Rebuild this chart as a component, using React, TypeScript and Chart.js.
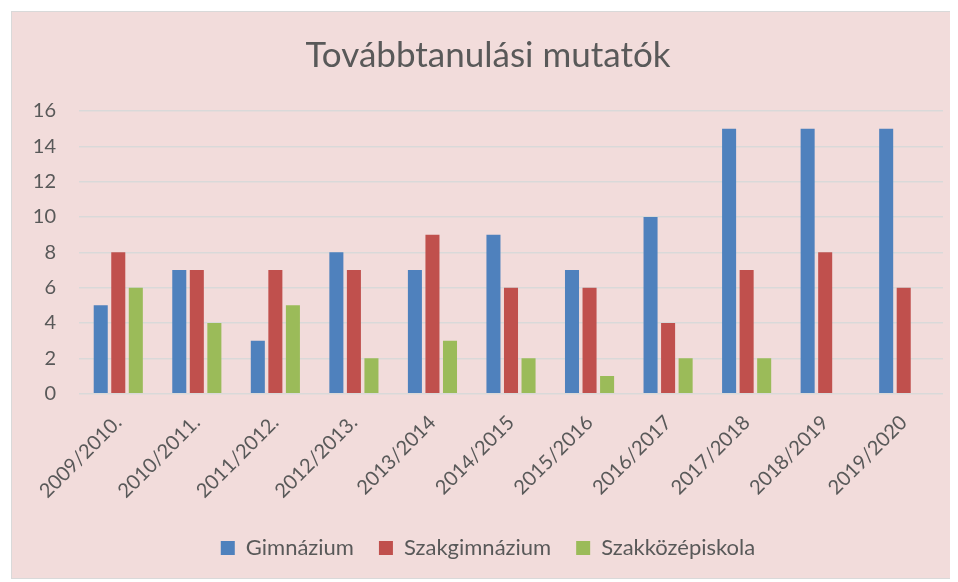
import React, { useEffect, useRef } from "react";
import { Chart, registerables } from "chart.js";

Chart.register(...registerables);

const categories = [
  "2009/2010.", "2010/2011.", "2011/2012.", "2012/2013.", "2013/2014", "2014/2015",
  "2015/2016", "2016/2017", "2017/2018", "2018/2019", "2019/2020",
];
const gimnazium = [5, 7, 3, 8, 7, 9, 7, 10, 15, 15, 15];
const szakgimnazium = [8, 7, 7, 7, 9, 6, 6, 4, 7, 8, 6];
const szakkozepiskola: (number | null)[] = [6, 4, 5, 2, 3, 2, 1, 2, 2, null, null];

const FONT = "Lato, 'Open Sans', sans-serif";
const TEXT = "#595959";

export default function App() {
  const ref = useRef<HTMLCanvasElement>(null);
  useEffect(() => {
    if (!ref.current) return;
    const chart = new Chart(ref.current, {
      type: "bar",
      data: {
        labels: categories,
        datasets: [
          { label: "Gimnázium", data: gimnazium, backgroundColor: "#4F81BD" },
          { label: "Szakgimnázium", data: szakgimnazium, backgroundColor: "#C0504D" },
          { label: "Szakközépiskola", data: szakkozepiskola, backgroundColor: "#9BBB59" },
        ],
      },
      options: {
        animation: false,
        responsive: false,
        maintainAspectRatio: false,
        layout: { padding: { left: 21, right: 12, top: 4, bottom: 9 } },
        datasets: { bar: { barPercentage: 0.8, categoryPercentage: 0.67 } },
        plugins: {
          title: {
            display: true,
            text: "Továbbtanulási mutatók",
            color: TEXT,
            font: { family: FONT, size: 35, weight: "normal" },
            padding: { top: 19, bottom: 34 },
          },
          legend: {
            position: "bottom",
            labels: {
              color: TEXT,
              font: { family: FONT, size: 22 },
              boxWidth: 14,
              boxHeight: 14,
              padding: 25,
            },
          },
          tooltip: { enabled: false },
        },
        scales: {
          x: {
            grid: { display: false },
            border: { display: false },
            afterFit: (s: any) => {
              s.paddingLeft = 0;
            },
            ticks: {
              color: TEXT,
              font: { family: FONT, size: 20 },
              maxRotation: 45,
              minRotation: 45,
              padding: 9,
            },
          },
          y: {
            min: 0,
            max: 16,
            grid: { color: "#D9D9D9", lineWidth: 1.5, drawTicks: false },
            border: { display: false },
            afterFit: (s: any) => {
              s.width = 46;
            },
            ticks: {
              stepSize: 2,
              color: TEXT,
              font: { family: FONT, size: 20 },
              padding: 23,
            },
          },
        },
      },
    });
    return () => chart.destroy();
  }, []);
  return (
    <div
      style={{
        marginLeft: 3,
        marginTop: 3,
        width: 943,
        height: 566,
        border: "1px solid #D9D9D9",
        background: "#F2DCDB",
      }}
    >
      <canvas ref={ref} width={943} height={566} style={{ display: "block" }} />
    </div>
  );
}
